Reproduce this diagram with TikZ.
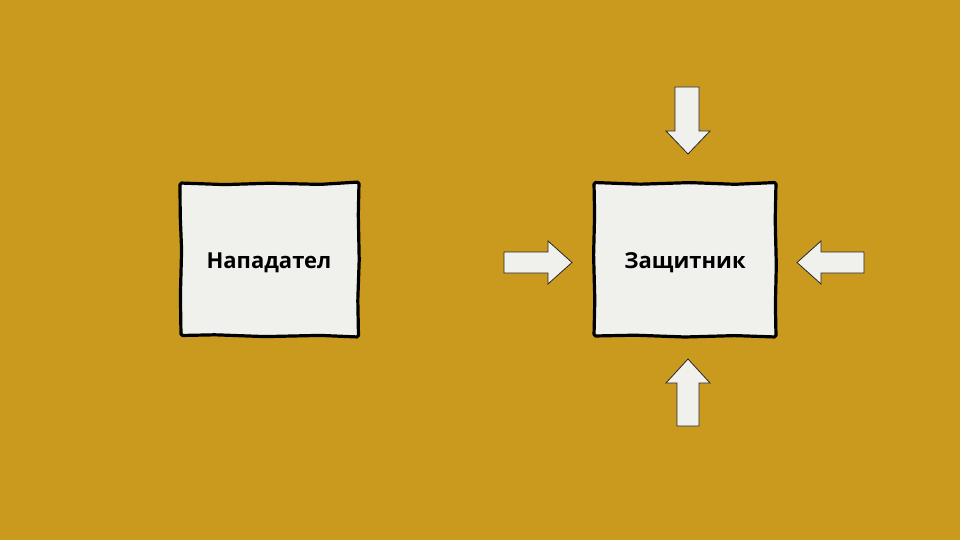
\documentclass[tikz,border=0pt]{standalone}
\usepackage{fontspec}
\setmainfont{Open Sans}
\definecolor{bg}{HTML}{C99A1E}
\definecolor{paper}{HTML}{F0F0EC}
\tikzset{
  boxarea/.style={minimum width=178pt, minimum height=154pt, inner sep=0pt},
  sketchline/.style={fill=paper, draw=black, line width=3.2pt, line join=round, rounded corners=1.5pt},
  boxlabel/.style={font=\fontsize{22}{26}\selectfont\bfseries, inner sep=0pt},
  fatarrow/.style={fill=paper, draw=black!85, line width=0.8pt, line join=miter}
}
\begin{document}
\begin{tikzpicture}[x=1pt,y=-1pt]
\fill[bg] (0,0) rectangle (960,540);
\useasboundingbox (0,0) rectangle (960,540);
% hand-drawn boxes
\draw[sketchline] (180,183) -- (225,184.6) -- (270,183.2) -- (320,184.4) -- (359,182)
  -- (358.3,215) -- (359.2,260) -- (357.8,300) -- (358.5,337)
  -- (320,335.4) -- (265,336.6) -- (215,334.8) -- (181,335.5)
  -- (180.4,295) -- (181.6,250) -- (180.2,215) -- cycle;
\draw[sketchline] (594,182.5) -- (640,184.2) -- (690,182.6) -- (735,184.3) -- (776,182.5)
  -- (775.2,220) -- (776.3,265) -- (775.4,305) -- (776,337)
  -- (735,335.6) -- (685,337) -- (635,335.2) -- (594,336)
  -- (594.8,300) -- (593.6,255) -- (594.6,215) -- cycle;
\node[boxarea] (att) at (269.5,259.5) {};
\node[boxarea, minimum width=182pt] (def) at (685,259.5) {};
\node[boxlabel] (attl) at (269,263) {Нападател};
\node[boxlabel] (defl) at (685,263) {Защитник};
% arrows pushing on the defender
\draw[fatarrow] (675,87) -- (699,87) -- (699,131) -- (710,131) -- (688,154) -- (666,131) -- (675,131) -- cycle;
\draw[fatarrow] (677,426) -- (699,426) -- (699,383) -- (710,383) -- (688,359) -- (666,383) -- (677,383) -- cycle;
\draw[fatarrow] (504,252) -- (548,252) -- (548,241) -- (572,262.5) -- (548,284) -- (548,273) -- (504,273) -- cycle;
\draw[fatarrow] (864,252) -- (821,252) -- (821,241) -- (797,262.5) -- (821,284) -- (821,273) -- (864,273) -- cycle;
\end{tikzpicture}
\end{document}
